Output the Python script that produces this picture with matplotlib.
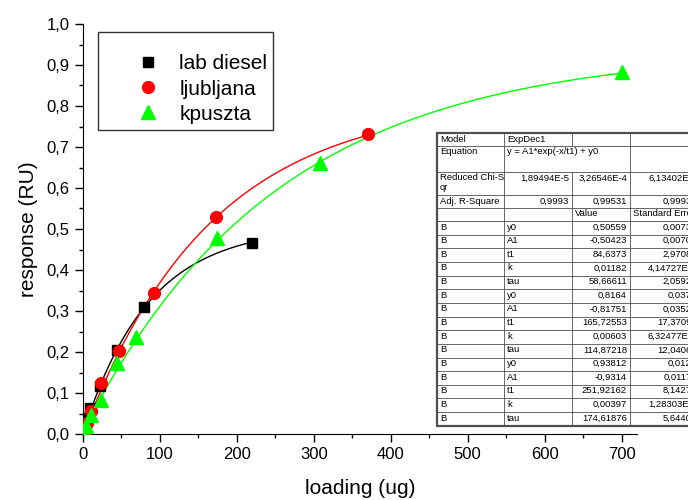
import numpy as np
import matplotlib.pyplot as plt
from matplotlib.patches import Rectangle

plt.rcParams['font.family'] = ['Liberation Sans', 'DejaVu Sans']

# data
lab_x = [2.5, 9, 22, 44, 79, 219]
lab_y = [0.04, 0.063, 0.117, 0.205, 0.31, 0.467]
lju_x = [2.5, 5, 11, 23, 47, 92, 173, 370]
lju_y = [0.0, 0.027, 0.057, 0.124, 0.202, 0.343, 0.529, 0.731]
kpu_x = [1, 4, 11, 23, 44, 69, 174, 308, 700]
kpu_y = [0.0, 0.02, 0.046, 0.083, 0.172, 0.237, 0.478, 0.661, 0.884]

# ExpDec1 fit parameters (y0, A1, t1) from the table
fit_lab = (0.50559, -0.50423, 84.6373)
fit_lju = (0.8164, -0.81751, 165.72553)
fit_kpu = (0.93812, -0.9314, 251.92162)

table_head = [
    ["Model", "ExpDec1", "", ""],
    ["Equation", "y = A1*exp(-x/t1) + y0", "", ""],
    ["Reduced Chi-S\nqr", "1,89494E-5", "3,26546E-4", "6,13402E-5"],
    ["Adj. R-Square", "0,9993", "0,99531", "0,99938"],
    ["", "", "Value", "Standard Error"],
]
param_names = ["y0", "A1", "t1", "k", "tau"] * 3
param_values = ["0,50559", "-0,50423", "84,6373", "0,01182", "58,66611",
                "0,8164", "-0,81751", "165,72553", "0,00603", "114,87218",
                "0,93812", "-0,9314", "251,92162", "0,00397", "174,61876"]
param_errors = ["0,00735", "0,00701", "2,97088", "4,14727E-4", "2,05926",
                "0,0378", "0,03528", "17,37096", "6,32477E-4", "12,04063",
                "0,0123", "0,01179", "8,14271", "1,28303E-4", "5,64409"]


def expdec(x, p):
    y0, a1, t1 = p
    return a1 * np.exp(-x / t1) + y0


fig = plt.figure(figsize=(6.88, 5.0), dpi=100)
ax = fig.add_axes([83 / 688, 66 / 500, 554 / 688, 410 / 500])

for xs, ys, p, c in [(lab_x, lab_y, fit_lab, 'black'),
                     (lju_x, lju_y, fit_lju, '#ff0000'),
                     (kpu_x, kpu_y, fit_kpu, '#00ff00')]:
    xx = np.linspace(xs[0], xs[-1], 300)
    ax.plot(xx, expdec(xx, p), color=c, lw=1.0, zorder=2)

ax.plot(lab_x, lab_y, 's', color='black', ms=7, label='lab diesel', zorder=3)
ax.plot(lju_x, lju_y, 'o', color='#ff0000', ms=8.5, label='ljubljana', zorder=3)
ax.plot(kpu_x, kpu_y, '^', color='#00ff00', ms=9.5, label='kpuszta', zorder=3)

ax.set_xlim(0, 720)
ax.set_ylim(0, 1.0)
ax.set_xticks(np.arange(0, 701, 100))
ax.set_xticks(np.arange(0, 720, 50), minor=True)
ax.set_yticks(np.arange(0, 1.01, 0.1))
ax.set_yticks(np.arange(0, 1.01, 0.05), minor=True)
ax.set_yticklabels([f"{v:.1f}".replace('.', ',') for v in np.arange(0, 1.01, 0.1)])
ax.tick_params(which='major', direction='out', length=6, width=1, labelsize=12)
ax.tick_params(which='minor', direction='out', length=3, width=1)
for s in ['top', 'right']:
    ax.spines[s].set_visible(False)
ax.set_xlabel('loading (ug)', fontsize=15, labelpad=12)
ax.set_ylabel('response (RU)', fontsize=15, labelpad=6)

leg = ax.legend(loc='upper left', bbox_to_anchor=(0.027, 0.981), borderaxespad=0,
                fontsize=15, frameon=True, fancybox=False, edgecolor='black',
                borderpad=0.3, handlelength=4.2, handletextpad=-0.6,
                labelspacing=0.3, numpoints=1, title=' ', title_fontsize=8)
leg.get_frame().set_linewidth(1.0)

# parameter table drawn in pixel coordinates
tab = fig.add_axes([0, 0, 1, 1], facecolor='none')
tab.set_xlim(0, 688)
tab.set_ylim(500, 0)
tab.axis('off')

col_edges = [437, 504, 572, 630, 700]
row_edges = [133, 146, 172, 195, 208, 221]
for i in range(15):
    row_edges.append(221 + 13.65 * (i + 1))

rows = table_head + [["B", n, v, e] for n, v, e in zip(param_names, param_values, param_errors)]

tab.add_patch(Rectangle((col_edges[0], row_edges[0]), col_edges[-1] - col_edges[0],
                        row_edges[-1] - row_edges[0], facecolor='white',
                        edgecolor='#505050', lw=1.6, zorder=1))
line_kw = dict(color='#505050', lw=0.6, zorder=2)
for r in row_edges[1:-1]:
    tab.plot([col_edges[0], col_edges[-1]], [r, r], **line_kw)
for ri, row in enumerate(rows):
    top, bot = row_edges[ri], row_edges[ri + 1]
    for ci in range(1, 4):
        if ri == 1 and ci == 2:
            continue
        tab.plot([col_edges[ci], col_edges[ci]], [top, bot], **line_kw)
    for ci, txt in enumerate(row):
        if not txt:
            continue
        numeric = txt[0].isdigit() or txt[0] == '-'
        if ci > 0 and numeric:
            x, ha = col_edges[ci + 1] - 3, 'right'
        else:
            x, ha = col_edges[ci] + 3, 'left'
        tab.text(x, top + 1.5, txt, ha=ha, va='top', fontsize=6.8,
                 linespacing=1.1, zorder=3)

fig.savefig('out.png', dpi=100)
